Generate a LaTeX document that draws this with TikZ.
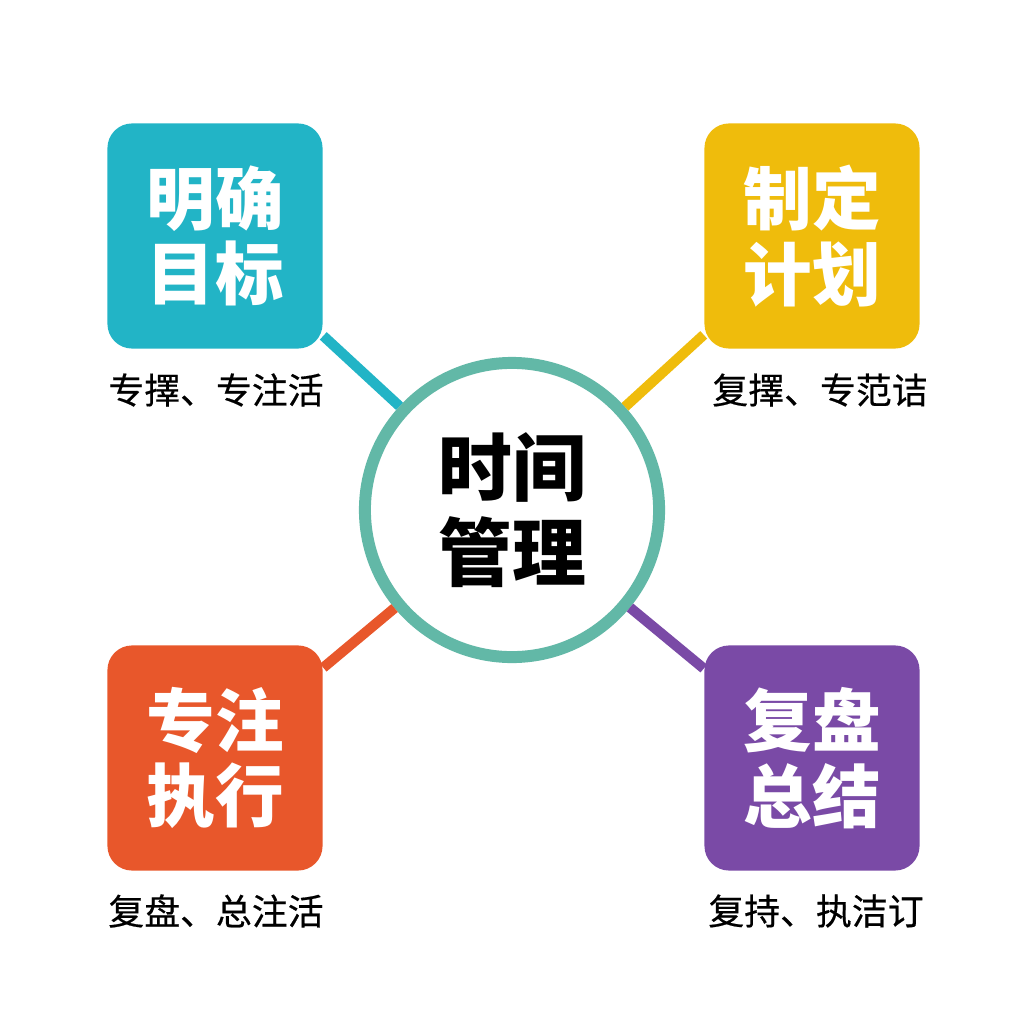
\documentclass[tikz,border=0pt]{standalone}
\usepackage{fontspec}
\usepackage{tikz}
\usepackage{xcolor}
\usetikzlibrary{positioning}
\newfontfamily\cjk{Noto Sans CJK SC}
\newfontfamily\cjknote[FakeBold=0.5]{Noto Sans CJK SC}
\definecolor{goalc}{HTML}{22B4C6}
\definecolor{planc}{HTML}{EFBC0C}
\definecolor{doc}{HTML}{E8572B}
\definecolor{revc}{HTML}{7A4AA6}
\definecolor{hubc}{HTML}{62B8A7}
\tikzset{tmbox/.style={rounded corners=7pt, minimum width=2.15cm, minimum height=2.25cm,
    inner sep=0pt, align=center, text=white, font=\cjk\bfseries\fontsize{19.5}{21.5}\selectfont}}
\tikzset{tmnote/.style={inner sep=0pt, font=\cjknote\fontsize{10.2}{12}\selectfont}}
\tikzset{tmlink/.style={line width=2.9pt}}

\begin{document}
\begin{tikzpicture}[x=0.01cm, y=-0.01cm]
                        % pixel grid of the reference, origin top left
                        \useasboundingbox (0, 0) rectangle (1024, 1024);
                        \node[circle, draw=hubc, line width=3.4pt, fill=white, minimum size=2.94cm,
                            inner sep=0pt, align=center, font=\cjk\bfseries\fontsize{21}{24.2}\selectfont]
                            (hub) at (512, 510) {时间\\管理};
                        \node[tmbox, fill=goalc] (goal) at (215, 236) {明确\\目标};
                        \node[tmbox, fill=planc] (plan) at (812, 236) {制定\\计划};
                        \node[tmbox, fill=doc] (exec) at (215, 758) {专注\\执行};
                        \node[tmbox, fill=revc] (review) at (812, 758) {复盘\\总结};
                        \node[tmnote] (goaln) at (216, 390) {专擇、专注活};
                        \node[tmnote] (plann) at (820, 390) {复擇、专范诘};
                        \node[tmnote] (execn) at (216, 911) {复盘、总注活};
                        \node[tmnote] (reviewn) at (816, 911) {复持、执洁订};

                        \draw
                        (goal) edge[tmlink, goalc] (hub)
                        (plan) edge[tmlink, planc] (hub)
                        (exec) edge[tmlink, doc] (hub)
                        (review) edge[tmlink, revc] (hub);
                    \end{tikzpicture}
\end{document}
